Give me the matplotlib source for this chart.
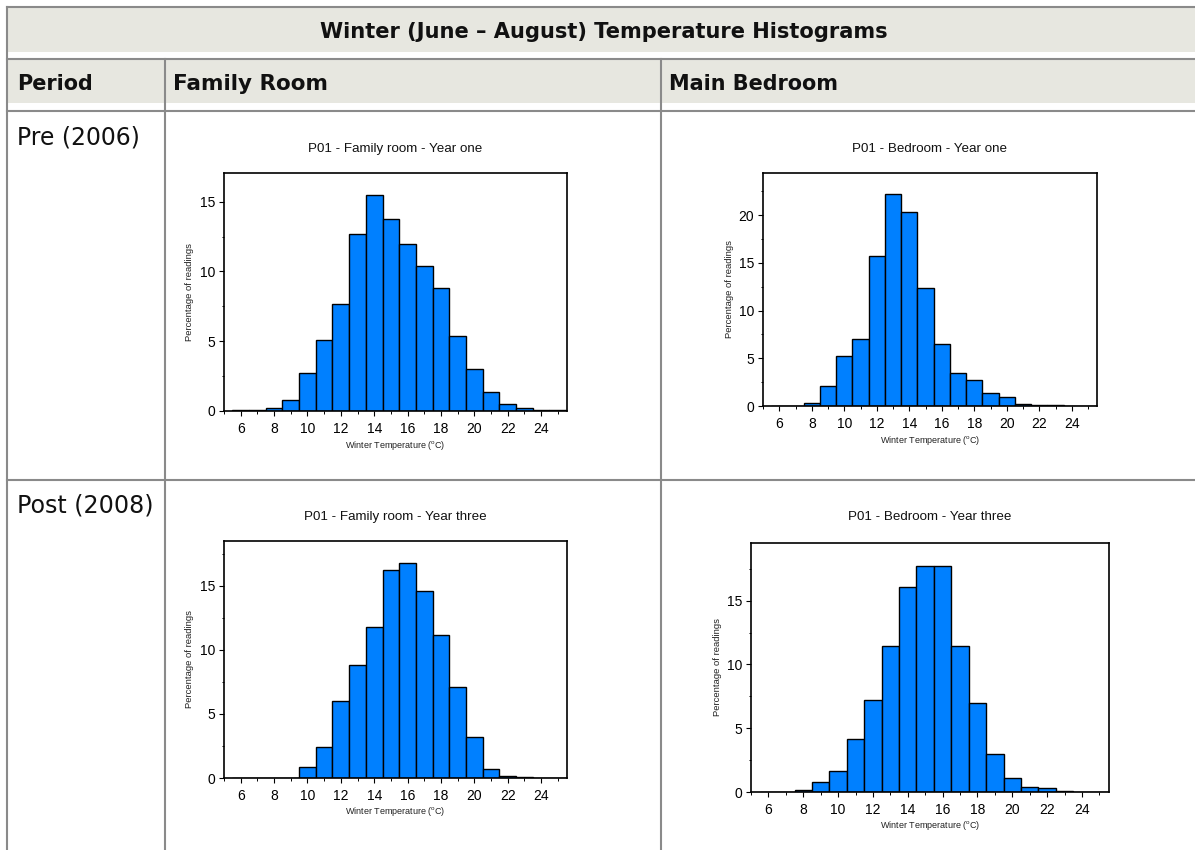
import matplotlib
matplotlib.use('Agg')
import matplotlib.pyplot as plt
from matplotlib.lines import Line2D
from matplotlib.patches import Rectangle
from matplotlib.ticker import FixedLocator, MultipleLocator

# ---------------- data ----------------
bin_centres = list(range(6, 26))
fam_year_one = [0.05, 0.05, 0.24, 0.77, 2.71, 5.10, 7.69, 12.65, 15.50, 13.73,
                11.96, 10.42, 8.79, 5.39, 3.00, 1.37, 0.53, 0.24, 0.05, 0.05]
bed_year_one = [0.02, 0.03, 0.31, 2.06, 5.19, 7.04, 15.75, 22.20, 20.38, 12.40,
                6.45, 3.41, 2.68, 1.32, 0.98, 0.17, 0.14, 0.10, 0.03, 0.02]
fam_year_three = [0.02, 0.02, 0.02, 0.02, 0.88, 2.41, 6.00, 8.85, 11.81, 16.22,
                  16.82, 14.61, 11.13, 7.11, 3.19, 0.67, 0.18, 0.10, 0.02, 0.02]
bed_year_three = [0.03, 0.03, 0.16, 0.76, 1.62, 4.14, 7.25, 11.47, 16.05, 17.75,
                  17.70, 11.41, 6.99, 2.98, 1.13, 0.39, 0.29, 0.05, 0.02, 0.02]

x_ticks = [6, 8, 10, 12, 14, 16, 18, 20, 22, 24]
table_title = "Winter (June \u2013 August) Temperature Histograms"
col_headers = ["Period", "Family Room", "Main Bedroom"]
row_labels = ["Pre (2006)", "Post (2008)"]
chart_titles = ["P01 - Family room - Year one", "P01 - Bedroom - Year one",
                "P01 - Family room - Year three", "P01 - Bedroom - Year three"]
x_label = r"Winter Temperature ($^{\mathrm{o}}$C)"
y_label = "Percentage of readings"

# ---------------- style ----------------
W, H = 1195, 850
plt.rcParams['font.family'] = ['Liberation Sans', 'DejaVu Sans']
plt.rcParams['mathtext.fontset'] = 'custom'
plt.rcParams['mathtext.rm'] = 'Liberation Sans'
plt.rcParams['mathtext.it'] = 'Liberation Sans:italic'
plt.rcParams['mathtext.bf'] = 'Liberation Sans:bold'

band_col = '#e7e7e0'
line_col = '#8a8a8a'
bar_col = '#0080ff'

fig = plt.figure(figsize=(W / 100, H / 100), dpi=100)
renderer = fig.canvas.get_renderer()


def fx(x):
    return x / W


def fy(y):
    return 1 - y / H


def rect(x0, y0, x1, y1):
    fig.add_artist(Rectangle((fx(x0), fy(y1)), (x1 - x0) / W, (y1 - y0) / H,
                             transform=fig.transFigure, color=band_col,
                             zorder=0, lw=0))


def hline(y, x0=7, x1=1195):
    fig.add_artist(Line2D([fx(x0), fx(x1)], [fy(y), fy(y)],
                          transform=fig.transFigure, color=line_col, lw=1.5,
                          zorder=1))


def vline(x, y0, y1=850):
    fig.add_artist(Line2D([fx(x), fx(x)], [fy(y0), fy(y1)],
                          transform=fig.transFigure, color=line_col, lw=1.5,
                          zorder=1))


def fit_text(x, y, s, width_px, **kw):
    t = fig.text(fx(x), fy(y), s, fontsize=10, **kw)
    w = t.get_window_extent(renderer).width
    t.set_fontsize(10 * width_px / w)
    return t


# ---------------- table ----------------
rect(8, 8, 1195, 52)
rect(8, 60, 1195, 103)
hline(7)
hline(59)
hline(111)
hline(480)
vline(7, 7)
vline(165, 59)
vline(661, 59)

fit_text(603.5, 38, table_title, 571, family='DejaVu Sans', weight='bold',
         ha='center', va='baseline', color='#111111')
fit_text(17, 90, col_headers[0], 76, family='DejaVu Sans', weight='bold',
         ha='left', va='baseline', color='#111111')
fit_text(173, 90, col_headers[1], 155, family='DejaVu Sans', weight='bold',
         ha='left', va='baseline', color='#111111')
fit_text(669, 90, col_headers[2], 169, family='DejaVu Sans', weight='bold',
         ha='left', va='baseline', color='#111111')
fit_text(17, 145, row_labels[0], 123, family='DejaVu Sans',
         ha='left', va='baseline', color='#111111')
fit_text(17, 513, row_labels[1], 136, family='DejaVu Sans',
         ha='left', va='baseline', color='#111111')

# ---------------- histograms ----------------
panels = [
    (fam_year_one, (224, 173, 567, 411), 152, chart_titles[0]),
    (bed_year_one, (763, 173, 1097, 406), 152, chart_titles[1]),
    (fam_year_three, (224, 541, 567, 778), 520, chart_titles[2]),
    (bed_year_three, (751, 543, 1109, 792), 520, chart_titles[3]),
]

for values, (l, t, r, b), title_y, title in panels:
    ax = fig.add_axes([fx(l), fy(b), (r - l) / W, (b - t) / H])
    ax.bar(bin_centres, values, width=1.0, align='center', color=bar_col,
           edgecolor='black', linewidth=1.0, zorder=2)
    ax.set_xlim(5.0, 25.55)
    ax.set_ylim(0, 1.1 * max(values))
    ax.xaxis.set_major_locator(FixedLocator(x_ticks))
    ax.xaxis.set_minor_locator(MultipleLocator(1))
    ax.yaxis.set_major_locator(MultipleLocator(5))
    ax.yaxis.set_minor_locator(MultipleLocator(2.5))
    ax.tick_params(which='major', direction='out', length=3.5, width=0.8,
                   labelsize=10, pad=4.5, top=False, right=False)
    ax.tick_params(axis='y', which='major', pad=3)
    ax.tick_params(which='minor', direction='out', length=1.8, width=0.7,
                   top=False, right=False)
    for sp in ax.spines.values():
        sp.set_linewidth(1.2)
        sp.set_color('black')
        sp.set_zorder(3)
    cx = (l + r) / 2
    fig.text(fx(cx), fy(title_y), title, ha='center', va='baseline',
             fontsize=9.6, color='#111111')
    fig.text(fx(cx), fy(b + 34), x_label, ha='center', va='center',
             fontsize=6.5, color='#222222')
    fig.text(fx(l - 34), fy((t + b) / 2), y_label, ha='center', va='center',
             rotation=90, fontsize=6.8, color='#222222')

fig.savefig('out.png', dpi=100)
